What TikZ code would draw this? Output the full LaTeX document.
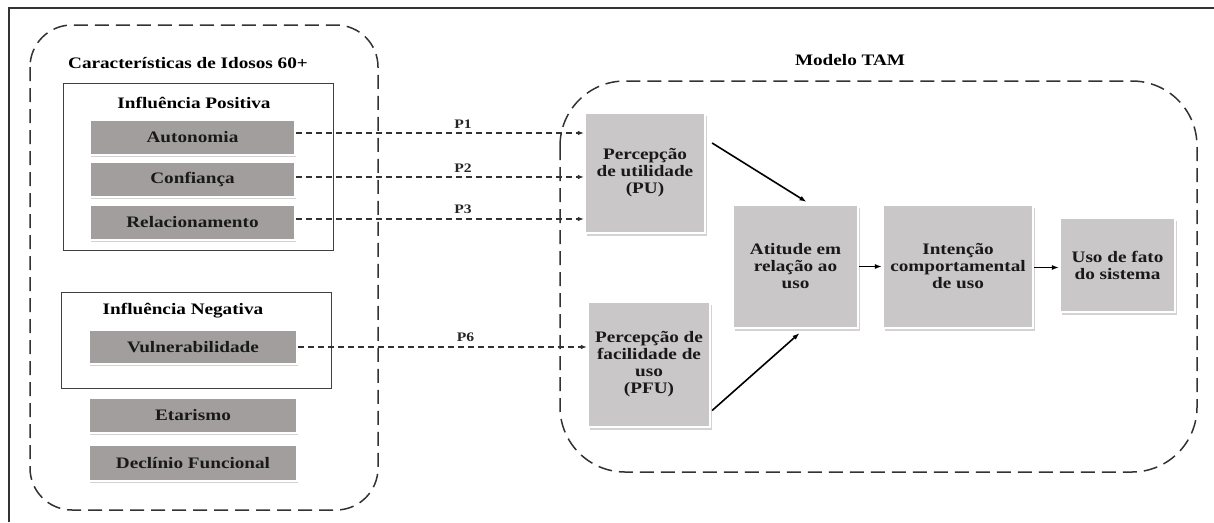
\documentclass[tikz,border=0pt]{standalone}
\usepackage{fontspec}
\setmainfont{Liberation Serif}
\newfontfamily\tfont[FakeStretch=1.2, BoldFont={Liberation Serif Bold}]{Liberation Serif}
\usetikzlibrary{arrows.meta,shadows,positioning}
\definecolor{leftgray}{RGB}{162,158,158}
\definecolor{rightgray}{RGB}{201,199,199}
\definecolor{dashcol}{RGB}{50,50,50}
\tikzset{
  lbl/.style={font=\tfont\bfseries\fontsize{16}{17}\selectfont, text=black!90, align=center},
  leftbox/.style={lbl, rectangle, fill=leftgray, draw=white, line width=2.2pt,
    drop shadow={opacity=0.35, shadow xshift=1pt, shadow yshift=-2pt}, inner sep=0pt},
  rightbox/.style={lbl, rectangle, fill=rightgray, draw=white, line width=2.2pt,
    drop shadow={opacity=0.35, shadow xshift=1.5pt, shadow yshift=-2.5pt}, inner sep=2pt},
  groupframe/.style={draw=dashcol, line width=1.5pt, dash pattern=on 14pt off 7pt},
  thinframe/.style={draw=black!75, line width=0.8pt},
  dasharrow/.style={draw=dashcol, line width=1.1pt, dash pattern=on 6pt off 4pt,
    -{Latex[length=6pt,width=4.5pt]}},
  solidarrow/.style={draw=black, line width=1.6pt, -{Latex[length=7pt,width=5pt]}},
  plabel/.style={font=\tfont\bfseries\fontsize{13}{14}\selectfont, text=black!85, above=1pt},
  title/.style={font=\tfont\bfseries\fontsize{16}{17}\selectfont, text=black}
}
\begin{document}
\begin{tikzpicture}[x=1pt,y=-1pt]
\useasboundingbox (0,0) rectangle (1214,522);
% outer frame (top and left visible)
\draw[line width=1.8pt, black!80] (9,522) -- (9,8) -- (1214,8);
% group frames
\draw[groupframe, rounded corners=42pt] (30,25) rectangle (378,510);
\draw[groupframe, rounded corners=65pt] (560,81) rectangle (1197,472);
\draw[thinframe] (63,83) rectangle (333,250);
\draw[thinframe] (61,292) rectangle (331,388);
% titles
\node[title] (tcar) at (188,63) {Características de Idosos 60+};
\node[title] (tpos) at (194,103) {Influência Positiva};
\node[title] (tneg) at (183,311) {Influência Negativa};
\node[title] (ttam) at (850,60) {Modelo TAM};
% left boxes
\node[leftbox, minimum width=205pt, minimum height=35pt] (aut) at (192.5,137.5) {Autonomia};
\node[leftbox, minimum width=205pt, minimum height=35pt] (conf) at (192.5,179.5) {Confiança};
\node[leftbox, minimum width=205pt, minimum height=35pt] (rel) at (192.5,222.5) {Relacionamento};
\node[leftbox, minimum width=208pt, minimum height=34pt] (vul) at (193,347) {Vulnerabilidade};
\node[leftbox, minimum width=208pt, minimum height=35pt] (eta) at (193,415.5) {Etarismo};
\node[leftbox, minimum width=208pt, minimum height=36pt] (dec) at (193,463) {Declínio Funcional};
% TAM boxes
\node[rightbox, minimum width=120pt, minimum height=120pt] (pu) at (645,173) {Percepção\\de utilidade\\(PU)};
\node[rightbox, minimum width=125pt, minimum height=123pt] (att) at (795.5,266.5) {Atitude em\\relação ao\\uso};
\node[rightbox, minimum width=122pt, minimum height=125pt] (pfu) at (649,364.5) {Percepção de\\facilidade de\\uso\\(PFU)};
\node[rightbox, minimum width=150pt, minimum height=123pt] (int) at (958,266.5) {Intenção\\comportamental\\de uso};
\node[rightbox, minimum width=115pt, minimum height=94pt] (uso) at (1117.5,265) {Uso de fato\\do sistema};
% dashed arrows
\coordinate (a1) at ([yshift=4.5pt]aut.east);
\coordinate (a2) at ([yshift=2.5pt]conf.east);
\coordinate (a3) at ([yshift=3.5pt]rel.east);
\coordinate (a6) at (vul.east);
\draw[dasharrow] (a1) -- node[plabel, pos=0.58] {P1} (a1 -| pu.west);
\draw[dasharrow] (a2) -- node[plabel, pos=0.58] {P2} (a2 -| pu.west);
\draw[dasharrow] (a3) -- node[plabel, pos=0.58] {P3} (a3 -| pu.west);
\draw[dasharrow] (a6) -- node[plabel, pos=0.58] {P6} (a6 -| pfu.west);
% solid arrows
\draw[solidarrow] ([shift={(6pt,30pt)}]pu.east) -- ([shift={(11pt,2pt)}]att.north);
\draw[solidarrow] ([shift={(1pt,-46pt)}]pfu.east) -- ([shift={(4pt,-4pt)}]att.south);
\draw[solidarrow] (att.east) -- (int.west);
\draw[solidarrow] ([yshift=-1pt]int.east) -- ([yshift=-1pt]int.east -| uso.west);
\end{tikzpicture}
\end{document}
